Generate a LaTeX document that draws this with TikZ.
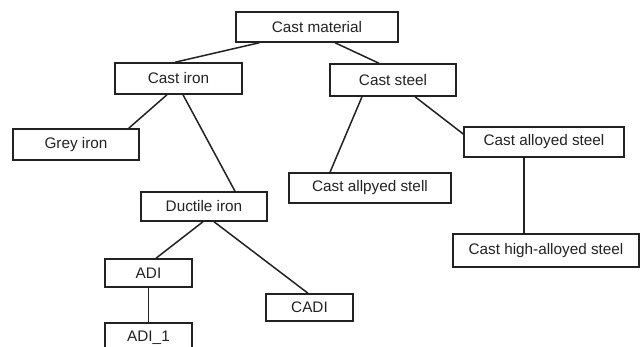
\documentclass[tikz,border=0pt]{standalone}
\usepackage{fontspec}
\setmainfont{Liberation Sans}
\usepackage{tikz}
\usetikzlibrary{positioning}
\usepackage{xcolor}
\definecolor{ink}{HTML}{222222}

\begin{document}
\begin{tikzpicture}[x=1pt, y=-1pt, line width=1.5pt, draw=ink, text=ink,
    box/.style={draw, inner sep=0pt, minimum width=#1, font=\fontsize{15.3}{18}\selectfont},
    box/.default=126pt]
    \useasboundingbox (0,0) rectangle (643,347);
    \clip (0,0) rectangle (643,347);
    \node [box=162pt, minimum height=30pt] (mat) at (317,27) {Cast material};
    \node [box=127pt, minimum height=31pt] (iron) at (178.5,78.5) {Cast iron};
    \node [box=126pt, minimum height=31pt] (grey) at (76,144.5) {Grey iron};
    \node [box=126pt, minimum height=32pt] (steel) at (393,80) {Cast steel};
    \node [box=160pt, minimum height=30pt] (alloyed) at (544,142) {Cast alloyed steel};
    \node [box=162pt, minimum height=30pt] (allpyed) at (370,188) {Cast allpyed stell};
    \node [box=126pt, minimum height=29pt] (ductile) at (204,206.5) {Ductile iron};
    \node [box=87pt, minimum height=28pt] (adi) at (148.5,273) {ADI};
    \node [box=87pt, minimum height=27pt] (cadi) at (309.5,307.5) {CADI};
    \node [box=87pt, minimum height=30pt] (adi1) at (148.5,338) {ADI\_1};
    \node [box=186pt, minimum height=33pt] (high) at (546,250.5) {Cast high-alloyed steel};

    % branches
    \draw ([xshift=24pt]mat.south west) -- ([xshift=-3.5pt]iron.north);
    \draw ([xshift=18pt]mat.south) -- ([xshift=-14pt]steel.north);
    \draw ([xshift=-11.5pt]iron.south) -- ([xshift=-11pt]grey.north east);
    \draw ([xshift=4.5pt]iron.south) -- ([xshift=31pt]ductile.north);
    \draw ([xshift=-31pt]steel.south) -- ([xshift=-40pt]allpyed.north);
    \draw ([xshift=22pt]steel.south) -- ([yshift=8pt]alloyed.west);
    \draw ([xshift=-20pt]alloyed.south) -- ([xshift=-22pt]high.north);
    \draw ([xshift=-1pt]ductile.south) -- ([xshift=7.5pt]adi.north);
    \draw ([xshift=10pt]ductile.south) -- ([xshift=-1.5pt]cadi.north);
    \draw (adi.south) -- (adi1.north);
\end{tikzpicture}
\end{document}
